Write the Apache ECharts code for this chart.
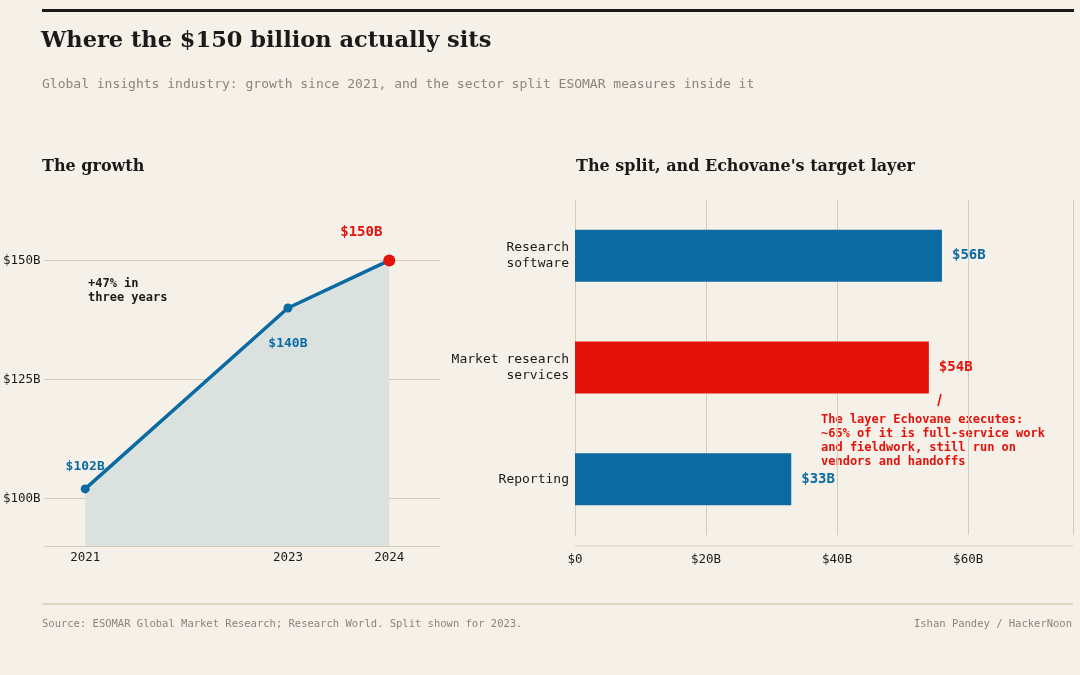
<!DOCTYPE html>
<html>
<head>
<meta charset="utf-8">
<script src="https://cdn.jsdelivr.net/npm/echarts@6/dist/echarts.min.js"></script>
<style>
  html, body { margin: 0; padding: 0; background: #f5f0e8; }
  #chart { width: 1080px; height: 675px; }
</style>
</head>
<body>
<div id="chart"></div>
<script>
// data
const years = [2021, 2023, 2024];
const marketSize = [102, 140, 150];
const sectors = ['Reporting', 'Market research\nservices', 'Research\nsoftware'];
const sectorValues = [33, 54, 56];
const growthTicks = [100, 125, 150];

const serif = '"DejaVu Serif", serif';
const mono = '"DejaVu Sans Mono", monospace';
const blue = '#0a6aa1';
const red = '#e3120b';
const ink = '#1a1a1a';
const gridCol = '#d4cbb9';

const chart = echarts.init(document.getElementById('chart'));

chart.setOption({
  backgroundColor: '#f5f0e8',
  animation: false,
  textStyle: { fontFamily: mono },
  title: [
    { text: 'Where the $150 billion actually sits', left: 36, top: 25,
      textStyle: { fontFamily: serif, fontSize: 22.5, fontWeight: 'bold', color: ink } },
    { text: 'Global insights industry: growth since 2021, and the sector split ESOMAR measures inside it',
      left: 37, top: 73, textStyle: { fontFamily: mono, fontSize: 13, fontWeight: 'normal', color: '#8a857c' } },
    { text: 'The growth', left: 37, top: 154,
      textStyle: { fontFamily: serif, fontSize: 16, fontWeight: 'bold', color: ink } },
    { text: "The split, and Echovane's target layer", left: 571, top: 154,
      textStyle: { fontFamily: serif, fontSize: 16, fontWeight: 'bold', color: ink } },
    { text: 'Source: ESOMAR Global Market Research; Research World. Split shown for 2023.', left: 37, top: 614,
      textStyle: { fontFamily: mono, fontSize: 10.5, fontWeight: 'normal', color: '#8a857c' } },
    { text: 'Ishan Pandey / HackerNoon', right: 3, top: 614,
      textStyle: { fontFamily: mono, fontSize: 10.5, fontWeight: 'normal', color: '#8a857c' } }
  ],
  grid: [
    { left: 42, width: 398, top: 189, height: 357 },
    { left: 575, width: 498, top: 200, height: 335 }
  ],
  xAxis: [
    { type: 'value', gridIndex: 0, min: 2020.6, max: 2024.5,
      axisLine: { show: true, lineStyle: { color: gridCol } },
      axisTick: { show: false },
      splitLine: { show: false },
      axisLabel: { customValues: years, formatter: v => String(v), color: ink, fontSize: 12.5, fontFamily: mono, margin: 5 } },
    { type: 'value', gridIndex: 1, min: 0, max: 76, interval: 20,
      axisLine: { show: false }, axisTick: { show: false },
      splitLine: { show: true, lineStyle: { color: gridCol } },
      axisLabel: { formatter: v => v > 60 ? '' : '$' + v + (v ? 'B' : ''), color: ink, fontSize: 12.5, fontFamily: mono, margin: 18 } }
  ],
  yAxis: [
    { type: 'value', gridIndex: 0, min: 90, max: 165,
      axisLine: { show: false }, axisTick: { show: false },
      splitLine: { show: false },
      axisLabel: { customValues: growthTicks, formatter: v => '$' + v + 'B', color: ink, fontSize: 12.5, fontFamily: mono, margin: 4 } },
    { type: 'category', gridIndex: 1, data: sectors,
      axisLine: { show: true, lineStyle: { color: gridCol } }, axisTick: { show: false },
      axisLabel: { color: ink, fontSize: 13, fontFamily: mono, align: 'right', lineHeight: 16, margin: 6 } }
  ],
  series: [
    { type: 'line', xAxisIndex: 0, yAxisIndex: 0,
      data: years.map((y, i) => ({
        value: [y, marketSize[i]],
        symbolSize: i === 2 ? 12 : 9,
        itemStyle: { color: i === 2 ? red : blue },
        label: {
          show: true,
          formatter: '$' + marketSize[i] + 'B',
          color: i === 2 ? red : blue,
          fontWeight: 'bold', fontSize: i === 2 ? 14 : 13, fontFamily: mono,
          position: i === 1 ? 'bottom' : 'top',
          offset: i === 0 ? [0, -6] : i === 1 ? [0, 20] : [-28, -10]
        }
      })),
      symbol: 'circle',
      lineStyle: { color: blue, width: 3.5 },
      areaStyle: { color: '#dbe1df', opacity: 1, origin: 'start' },
      markLine: { silent: true, symbol: 'none', label: { show: false }, z: 0,
        lineStyle: { color: gridCol, type: 'solid', width: 1 },
        data: growthTicks.map(v => ({ yAxis: v })) }
    },
    { type: 'bar', xAxisIndex: 1, yAxisIndex: 1, barWidth: 52,
      data: sectorValues.map((v, i) => ({ value: v, itemStyle: { color: i === 1 ? red : blue }, label: { color: i === 1 ? red : blue } })),
      label: { show: true, position: 'right', distance: 10, formatter: p => '$' + p.value + 'B',
        fontWeight: 'bold', fontSize: 14, fontFamily: mono }
    }
  ],
  graphic: [
    { type: 'rect', shape: { x: 42, y: 9, width: 1032, height: 3 }, style: { fill: ink } },
    { type: 'line', shape: { x1: 42, y1: 604, x2: 1073, y2: 604 }, style: { stroke: gridCol, lineWidth: 1.5 } },
    { type: 'line', shape: { x1: 575, y1: 546, x2: 1073, y2: 546 }, style: { stroke: gridCol, lineWidth: 1 } },
    { type: 'line', shape: { x1: 941, y1: 394, x2: 938, y2: 406 }, style: { stroke: red, lineWidth: 1.5 } },
    { type: 'text', left: 88, top: 277, style: { text: '+47% in\nthree years', font: 'bold 12px ' + mono, fill: ink, lineHeight: 14 } },
    { type: 'text', left: 821, top: 413, style: {
      text: 'The layer Echovane executes:\n~65% of it is full-service work\nand fieldwork, still run on\nvendors and handoffs',
      font: 'bold 12px ' + mono, fill: red, lineHeight: 14 } }
  ]
});
</script>
</body>
</html>
